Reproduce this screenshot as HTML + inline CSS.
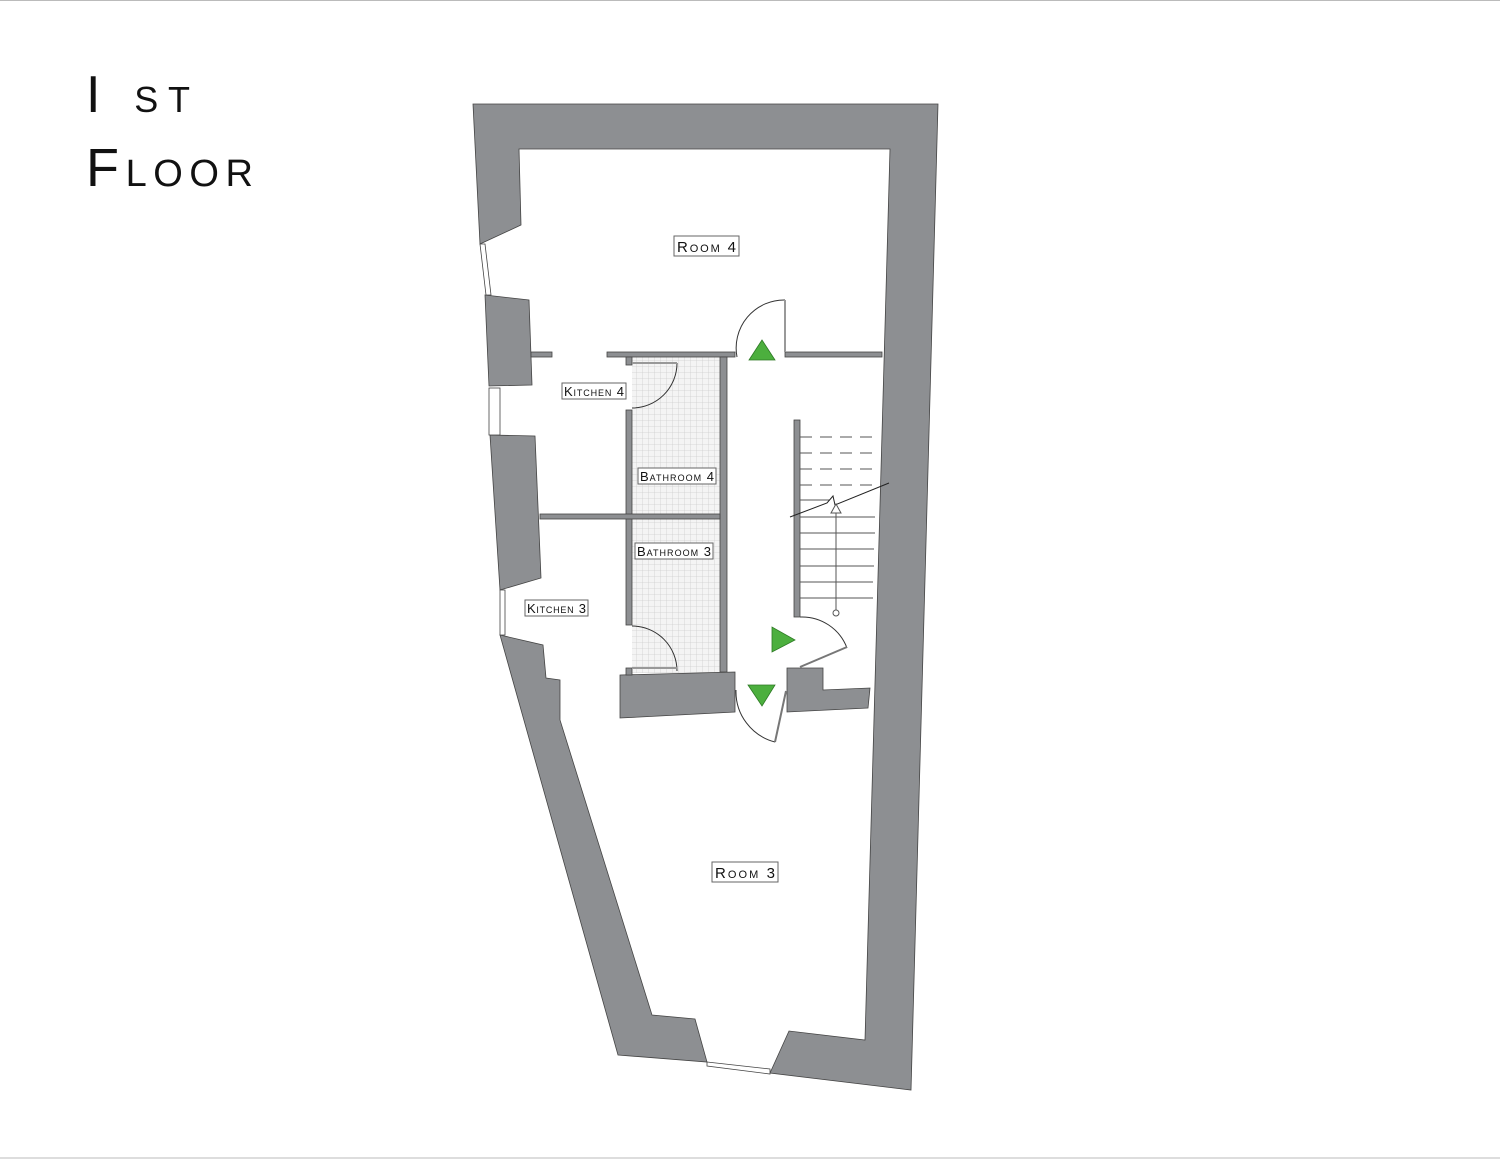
<!DOCTYPE html>
<html><head><meta charset="utf-8"><style>
html,body{margin:0;padding:0;background:#fff}
svg{display:block}
</style></head><body>
<svg width="1500" height="1159" viewBox="0 0 1500 1159" xmlns="http://www.w3.org/2000/svg" font-family="Liberation Sans, sans-serif">
<defs>
<pattern id="tile" width="6" height="6" patternUnits="userSpaceOnUse">
<rect width="6" height="6" fill="#f4f4f4"/>
<path d="M0 0H6M0 0V6" stroke="#cfcfcf" stroke-width="0.8"/>
</pattern>
</defs>
<line x1="0" y1="0.5" x2="1500" y2="0.5" stroke="#bbb"/>
<line x1="0" y1="1158" x2="1500" y2="1158" stroke="#bbb"/>

<text x="86" y="112" font-size="52" fill="#111" style="font-variant:small-caps" textLength="104" lengthAdjust="spacing">I st</text>
<text x="86" y="186" font-size="54" fill="#111" style="font-variant:small-caps" textLength="167" lengthAdjust="spacing">Floor</text>

<rect x="632" y="357" width="88" height="316" fill="url(#tile)"/>

<g fill="#8d8f92" stroke="#444" stroke-width="0.8">
<polygon points="473,104 938,104 911,1090 770,1073 789,1031 865,1040 890,149 519,149 521,225 480,244"/>
<polygon points="485,295 529,300 532,385 489,386"/>
<polygon points="490,435 535,436 541,578 500,590"/>
<polygon points="500,635 543,645 546,678 560,680 560,720 652,1015 695,1019 707,1062 618,1055"/>
<polygon points="620,675 735,672 735,712 620,718"/>
<polygon points="787,668 823,668 823,690 870,688 868,708 787,712"/>
<rect x="531" y="352" width="21" height="5"/>
<rect x="607" y="352" width="128" height="5"/>
<rect x="785" y="352" width="97" height="5"/>
<rect x="720" y="357" width="7" height="315"/>
<rect x="626" y="410" width="6" height="215"/>
<rect x="540" y="514" width="180" height="5"/>
<rect x="626" y="357" width="6" height="8"/>
<rect x="626" y="668" width="6" height="7"/>
<rect x="794" y="420" width="6" height="197"/>
</g>

<g fill="#fff" stroke="#444" stroke-width="0.8">
<polygon points="480,244 485,244 491,295 486,295"/>
<rect x="489" y="388" width="11" height="47"/>
<polygon points="500,590 505,590 505,635 500,635"/>
<polygon points="707,1062 770,1069 770,1074 707,1066"/>
</g>

<g stroke="#555" stroke-width="1" fill="none">
<g stroke-dasharray="12,8">
<line x1="800" y1="437" x2="877" y2="437"/>
<line x1="800" y1="453" x2="877" y2="453"/>
<line x1="800" y1="469" x2="877" y2="469"/>
<line x1="800" y1="485" x2="877" y2="485"/>
</g>
<line x1="800" y1="500" x2="830" y2="500"/>
<line x1="800" y1="517" x2="875" y2="517"/>
<line x1="800" y1="533" x2="875" y2="533"/>
<line x1="800" y1="549" x2="874" y2="549"/>
<line x1="800" y1="566" x2="874" y2="566"/>
<line x1="800" y1="582" x2="873" y2="582"/>
<line x1="800" y1="598" x2="873" y2="598"/>
<polyline points="790,517 827,503 833,496 835,505 889,483" stroke="#222"/>
<line x1="836" y1="510" x2="836" y2="610"/>
<polygon points="836,504 831,513 841,513" fill="#fff"/>
<circle cx="836" cy="613" r="3" fill="#fff"/>
</g>

<g stroke="#333" stroke-width="1" fill="none">
<path d="M737,357 A48,48 0 0 1 785,300"/>
<line x1="785" y1="300" x2="785" y2="352" stroke-width="2" stroke="#999"/>
<path d="M632,408 A45,45 0 0 0 677,363"/>
<line x1="632" y1="363" x2="677" y2="363" stroke-width="2" stroke="#999"/>
<path d="M632,626 A45,45 0 0 1 677,671"/>
<line x1="632" y1="668" x2="677" y2="668" stroke-width="2" stroke="#999"/>
<path d="M800,617 A48,48 0 0 1 847,648"/>
<line x1="800" y1="667" x2="847" y2="647" stroke-width="2" stroke="#777"/>
<path d="M736,690 A52,52 0 0 0 775,742"/>
<line x1="775" y1="742" x2="786" y2="691" stroke-width="2" stroke="#777"/>
</g>

<g fill="#4caf3e" stroke="#2e7a25" stroke-width="0.8">
<polygon points="762,340 749,360 775,360"/>
<polygon points="772,627 772,652 795,640"/>
<polygon points="748,685 775,685 762,706"/>
</g>

<g fill="#111" style="font-variant:small-caps">
<rect x="674" y="236" width="65" height="20" fill="#fff" stroke="#666"/>
<text x="677" y="252" font-size="15" textLength="59" lengthAdjust="spacing">Room 4</text>
<rect x="562" y="383" width="64" height="16" fill="#fff" stroke="#666"/>
<text x="564" y="396" font-size="13" textLength="60" lengthAdjust="spacing">Kitchen 4</text>
<rect x="638" y="468" width="78" height="16" fill="#fff" stroke="#666"/>
<text x="640" y="481" font-size="13" textLength="74" lengthAdjust="spacing">Bathroom 4</text>
<rect x="635" y="543" width="78" height="16" fill="#fff" stroke="#666"/>
<text x="637" y="556" font-size="13" textLength="74" lengthAdjust="spacing">Bathroom 3</text>
<rect x="525" y="600" width="63" height="16" fill="#fff" stroke="#666"/>
<text x="527" y="613" font-size="13" textLength="59" lengthAdjust="spacing">Kitchen 3</text>
<rect x="712" y="862" width="66" height="20" fill="#fff" stroke="#666"/>
<text x="715" y="878" font-size="15" textLength="60" lengthAdjust="spacing">Room 3</text>
</g>
</svg>
</body></html>
